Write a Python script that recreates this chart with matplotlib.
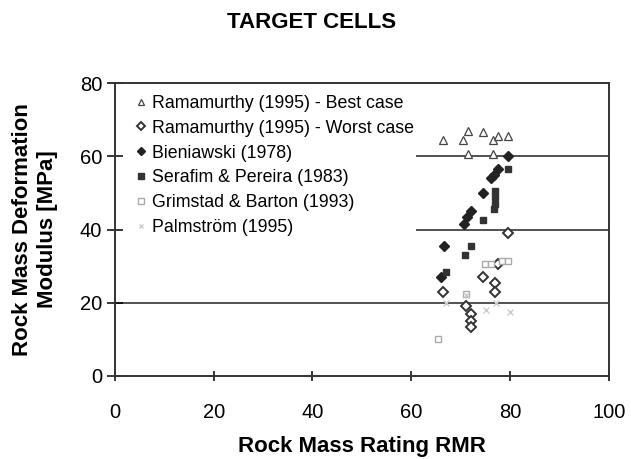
import matplotlib.pyplot as plt

plt.rcParams['font.family'] = ['Liberation Sans', 'DejaVu Sans']

# RMR / deformation modulus pairs per method
best_x = [66.5, 70.5, 71.5, 74.5, 76.5, 77.5, 79.5, 71.5, 76.5]
best_y = [64.5, 64.5, 67.0, 66.5, 64.5, 65.5, 65.5, 60.5, 60.5]

worst_x = [79.5, 74.5, 77.0, 77.0, 66.5, 71.0, 72.0, 72.0, 72.0, 77.5]
worst_y = [39.0, 27.0, 25.5, 23.0, 23.0, 19.0, 17.0, 15.0, 13.5, 30.5]

bien_x = [79.5, 77.5, 76.8, 76.2, 74.5, 72.0, 71.3, 70.7, 66.6, 66.0]
bien_y = [60.0, 56.5, 55.0, 54.0, 50.0, 45.0, 43.5, 41.5, 35.5, 27.0]

seraf_x = [79.5, 77.0, 77.0, 77.0, 76.8, 74.5, 72.0, 70.8, 67.0]
seraf_y = [56.5, 50.5, 49.0, 47.0, 45.5, 42.5, 35.5, 33.0, 28.5]

grim_x = [75.0, 76.2, 78.3, 79.5, 71.0, 65.5]
grim_y = [30.5, 30.5, 31.5, 31.5, 22.5, 10.0]

palm_x = [67.0, 71.0, 75.2, 77.2, 80.0]
palm_y = [20.0, 22.0, 18.0, 20.0, 17.5]

# horizontal reference levels and where they start
level_y = [20, 40, 60]
level_start = [0, 61, 61]
level_end = [100, 100, 100]

fig = plt.figure(figsize=(6.31, 4.59), dpi=100)
ax = fig.add_axes([0.182, 0.181, 0.783, 0.638])

ax.hlines(level_y, level_start, level_end, color='#333333', linewidth=1.2, zorder=1)

ax.plot(best_x, best_y, '^', ms=5.5, mfc='white', mec='#444444', mew=0.9,
        label='Ramamurthy (1995) - Best case')
ax.plot(worst_x, worst_y, 'D', ms=4.8, mfc='white', mec='#333333', mew=1.4,
        label='Ramamurthy (1995) - Worst case')
ax.plot(bien_x, bien_y, 'D', ms=5, mfc='#222222', mec='#222222',
        label='Bieniawski (1978)')
ax.plot(seraf_x, seraf_y, 's', ms=4.8, mfc='#333333', mec='#333333',
        label='Serafim & Pereira (1983)')
ax.plot(grim_x, grim_y, 's', ms=4.8, mfc='white', mec='#aaaaaa', mew=1.0,
        label='Grimstad & Barton (1993)')
ax.plot(palm_x, palm_y, 'x', ms=4, mec='#cccccc', mew=1.0,
        label='Palmström (1995)')

ax.set_xlim(0, 100)
ax.set_ylim(0, 80)
ax.set_xticks(range(0, 101, 20))
ax.set_yticks(range(0, 81, 20))
ax.tick_params(axis='y', direction='inout', length=12, width=1.1, labelsize=14.5, pad=3)
ax.tick_params(axis='x', direction='inout', length=7, width=1.1, labelsize=14.5, pad=16)
for s in ax.spines.values():
    s.set_linewidth(1.4)
    s.set_color('#333333')

ax.set_xlabel('Rock Mass Rating RMR', fontsize=16, fontweight='bold', labelpad=10)
ax.set_ylabel('Rock Mass Deformation\nModulus [MPa]', fontsize=16, fontweight='bold',
              labelpad=16, linespacing=1.25)
fig.text(0.493, 0.95, 'TARGET CELLS', fontsize=16, fontweight='bold',
         ha='center', va='center')

ax.legend(loc='upper left', bbox_to_anchor=(0.025, 0.99), frameon=False,
          fontsize=12.8, handlelength=0.6, handletextpad=0.3, labelspacing=0.44,
          markerscale=0.85, borderpad=0)

fig.savefig('out.png', dpi=100)
